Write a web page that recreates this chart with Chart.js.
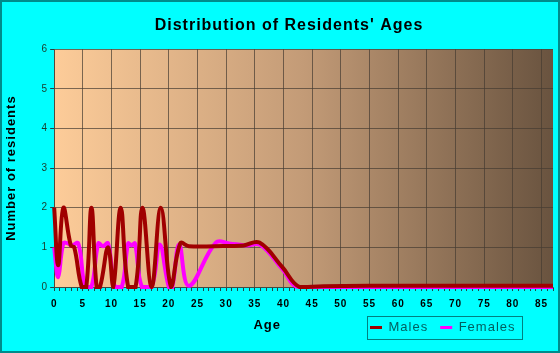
<!DOCTYPE html>
<html>
<head>
<meta charset="utf-8">
<script src="https://cdn.jsdelivr.net/npm/chart.js@4/dist/chart.umd.min.js"></script>
<style>
  html, body { margin: 0; padding: 0; background: #00ffff; }
  #wrap { position: relative; width: 560px; height: 353px; }
</style>
</head>
<body>
<div id="wrap"><canvas id="chart-ages"></canvas></div>
<script>
// ages (years) and number of residents
var maleAges   = [0, 0.7, 1.6, 2.9, 3.5, 4.8, 5.6, 6.5, 7.4, 8.0, 9.4, 10.3, 11.6, 12.9, 14.2, 15.4, 17.0, 18.6, 20.4, 22.0, 23.5, 28, 33, 35.8, 39.8, 42.8, 47, 55, 70, 87];
var maleCounts = [2.0, 0.55, 2.0, 1.05, 1.0, 0, 0, 2.0, 0, 0, 1.0, 0, 2.0, 0, 0, 2.0, 0, 2.0, 0, 1.1, 1.03, 1.03, 1.05, 1.12, 0.5, 0, 0.02, 0.03, 0.03, 0.03];

var femaleAges   = [0, 0.7, 1.6, 2.4, 3.0, 4.2, 5.4, 6.5, 7.7, 8.5, 9.4, 10.6, 11.8, 12.9, 13.5, 14.1, 15.3, 17.0, 18.4, 20.0, 20.6, 21.8, 23.5, 28.2, 30.5, 33.5, 36, 39.8, 42.8, 87];
var femaleCounts = [1.0, 0.25, 1.1, 1.1, 1.05, 1.1, 0, 0, 1.1, 1.03, 1.1, 0, 0, 1.1, 1.05, 1.1, 0, 0, 1.07, 0, 0, 1.07, 0.03, 1.12, 1.1, 1.05, 1.06, 0.45, 0, 0];

var ageMax = 87;
var ageLabelStep = 5;
var countMax = 6;

function toPoints(xs, ys) {
  return xs.map(function (x, i) { return { x: x, y: ys[i] }; });
}

var gridColor = 'rgba(70, 60, 50, 0.7)';
var font = '"Liberation Sans", Arial, sans-serif';
Chart.defaults.font.family = font;

var ageChartStyle = {
  id: 'ageChartStyle',
  beforeLayout: function (chart) {
    chart.ctx.letterSpacing = '1px';
  },
  afterLayout: function (chart) {
    // legend sits right of the "Age" title, title is a little right of centre
    chart.legend.left = 358;
    chart.titleBlock.left = 24;
  },
  beforeDraw: function (chart) {
    var ctx = chart.ctx, a = chart.chartArea;
    ctx.save();
    ctx.fillStyle = '#00ffff';
    ctx.fillRect(0, 0, chart.width, chart.height);
    ctx.strokeStyle = '#008b8b';
    ctx.lineWidth = 2;
    ctx.strokeRect(1, 1, chart.width - 2, chart.height - 2);
    var g = ctx.createLinearGradient(a.left, 0, a.right, 0);
    g.addColorStop(0, '#fdcc99');
    g.addColorStop(0.5, '#c39b77');
    g.addColorStop(1, '#69533f');
    ctx.fillStyle = g;
    ctx.fillRect(a.left, a.top, a.width, a.height);
    ctx.restore();
    ctx.letterSpacing = '1px';
  },
  afterDraw: function (chart) {
    var ctx = chart.ctx, a = chart.chartArea;
    ctx.save();
    ctx.letterSpacing = '1px';
    ctx.fillStyle = '#000';
    ctx.font = 'bold 13px ' + font;
    ctx.textAlign = 'center';
    ctx.textBaseline = 'middle';
    ctx.fillText('Age', a.left + 213, a.bottom + 38);

    var hb = chart.legend.legendHitBoxes;
    if (hb && hb.length) {
      var last = hb[hb.length - 1];
      var l = Math.round(hb[0].left - 3), r = Math.round(last.left + last.width + 6);
      var t = Math.round(hb[0].top - 5), b = Math.round(hb[0].top + hb[0].height + 5);
      ctx.strokeStyle = '#008080';
      ctx.lineWidth = 1;
      ctx.strokeRect(l + 0.5, t + 0.5, r - l, b - t);
    }
    ctx.restore();
  }
};

var ctx = document.getElementById('chart-ages').getContext('2d');
var myChart = new Chart(ctx, {
  type: 'line',
  data: {
    datasets: [
      {
        label: 'Males',
        data: toPoints(maleAges, maleCounts),
        borderColor: '#a00000',
        backgroundColor: '#a00000',
        borderWidth: 4,
        pointRadius: 0,
        tension: 0.4,
        clip: false
      },
      {
        label: 'Females',
        data: toPoints(femaleAges, femaleCounts),
        borderColor: '#ff00ff',
        backgroundColor: '#ff00ff',
        borderWidth: 4,
        pointRadius: 0,
        tension: 0.4,
        clip: false
      }
    ]
  },
  plugins: [ageChartStyle],
  options: {
    responsive: true,
    maintainAspectRatio: false,
    animation: false,
    layout: {
      padding: { left: 2, right: 6, top: 0, bottom: 9 }
    },
    plugins: {
      title: {
        display: true,
        text: "Distribution of Residents' Ages",
        color: '#000',
        font: { size: 16, weight: 'bold' },
        padding: { top: 16, bottom: 14 }
      },
      legend: {
        position: 'bottom',
        align: 'start',
        labels: {
          boxWidth: 12,
          boxHeight: 3,
          padding: 12,
          color: '#006060',
          font: { size: 13 },
          generateLabels: function (chart) {
            var items = Chart.defaults.plugins.legend.labels.generateLabels(chart);
            items.forEach(function (it) {
              it.lineWidth = 0;
              it.fillStyle = it.strokeStyle;
            });
            return items;
          }
        }
      },
      tooltip: { enabled: false }
    },
    scales: {
      x: {
        type: 'linear',
        min: 0,
        max: ageMax,
        afterFit: function (scale) { scale.height = 22; },
        ticks: {
          stepSize: 1,
          autoSkip: false,
          maxRotation: 0,
          padding: 7,
          color: '#000',
          font: { size: 10, weight: 'bold' },
          callback: function (v) { return v % ageLabelStep === 0 ? String(v) : ''; }
        },
        grid: {
          color: function (c) {
            return c.tick && c.tick.value % ageLabelStep === 0 ? gridColor : 'rgba(0,0,0,0)';
          },
          tickColor: '#224444',
          tickLength: 4
        },
        border: { color: gridColor }
      },
      y: {
        min: 0,
        max: countMax,
        ticks: {
          stepSize: 1,
          padding: 2,
          color: '#1a3a2a',
          font: { size: 10 }
        },
        grid: {
          color: gridColor,
          tickColor: '#224444',
          tickLength: 4
        },
        border: { color: gridColor },
        title: {
          display: true,
          text: 'Number of residents',
          color: '#000',
          font: { size: 13, weight: 'bold' },
          padding: { top: 2, bottom: 20 }
        }
      }
    }
  }
});
</script>
</body>
</html>
